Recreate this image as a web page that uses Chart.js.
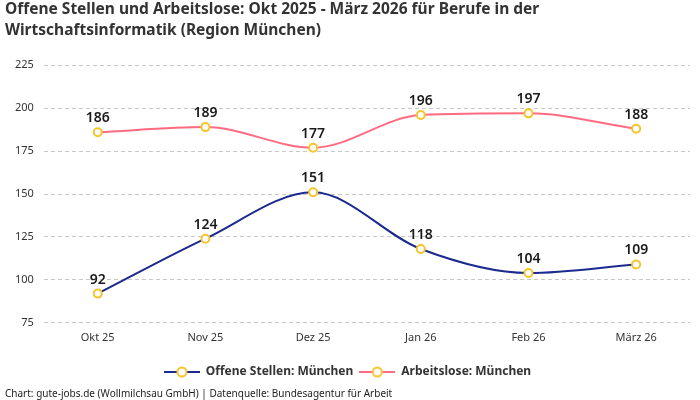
<!DOCTYPE html>
<html>
<head>
<meta charset="utf-8">
<script src="https://cdn.jsdelivr.net/npm/chart.js@4"></script>
<style>
  html, body { margin: 0; padding: 0; background: #fff; }
  #wrap { width: 700px; height: 400px; }
</style>
</head>
<body>
<div id="wrap"><canvas id="myChart"></canvas></div>
<script>
// data
var months = ["Okt 25", "Nov 25", "Dez 25", "Jan 26", "Feb 26", "März 26"];
var offeneStellen = [92, 124, 151, 118, 104, 109];
var arbeitslose = [186, 189, 177, 196, 197, 188];
var yTicks = [75, 100, 125, 150, 175, 200, 225];

var blue = "#1b2a8f";
var pink = "#ff6b81";
var yellow = "#f7c42b";

// legend icon: short line with a hollow circle in the middle
function legendIcon(color) {
  var c = document.createElement('canvas');
  c.width = 36; c.height = 14;
  var ctx = c.getContext('2d');
  ctx.strokeStyle = color;
  ctx.lineWidth = 2;
  ctx.beginPath();
  ctx.moveTo(0, 7); ctx.lineTo(36, 7);
  ctx.stroke();
  ctx.beginPath();
  ctx.arc(18, 7, 4.5, 0, Math.PI * 2);
  ctx.fillStyle = "#fff";
  ctx.fill();
  ctx.strokeStyle = yellow;
  ctx.lineWidth = 2;
  ctx.stroke();
  return c;
}

// numbers above each point
var valueLabels = {
  id: 'valueLabels',
  afterDatasetsDraw: function(chart) {
    var ctx = chart.ctx;
    ctx.save();
    ctx.font = "600 14px 'Noto Sans'";
    ctx.fillStyle = "#1a1a1a";
    ctx.textAlign = "center";
    ctx.textBaseline = "alphabetic";
    chart.data.datasets.forEach(function(ds, i) {
      chart.getDatasetMeta(i).data.forEach(function(pt, j) {
        ctx.fillText(ds.data[j], pt.x, pt.y - 10);
      });
    });
    ctx.restore();
  }
};

var chartCanvas = document.getElementById('myChart');

var data = {
  labels: months,
  datasets: [{
    label: "Offene Stellen: München",
    data: offeneStellen,
    borderColor: blue,
    backgroundColor: blue,
    borderWidth: 2,
    fill: false,
    cubicInterpolationMode: 'monotone',
    pointBackgroundColor: "#fff",
    pointBorderColor: yellow,
    pointBorderWidth: 2,
    pointRadius: 4,
    pointStyle: 'circle'
  },
  {
    label: "Arbeitslose: München",
    data: arbeitslose,
    borderColor: pink,
    backgroundColor: pink,
    borderWidth: 2,
    fill: false,
    cubicInterpolationMode: 'monotone',
    pointBackgroundColor: "#fff",
    pointBorderColor: yellow,
    pointBorderWidth: 2,
    pointRadius: 4,
    pointStyle: 'circle'
  }]
};

var options = {
  responsive: true,
  maintainAspectRatio: false,
  animation: false,
  layout: { padding: { left: 5, right: 10, top: 0, bottom: 0 } },
  plugins: {
    title: {
      display: true,
      align: 'start',
      text: ["Offene Stellen und Arbeitslose: Okt 2025 - März 2026 für Berufe in der", "Wirtschaftsinformatik (Region München)"],
      color: "#333",
      font: { family: "'Noto Sans'", size: 15.5, weight: 'bold', lineHeight: 1.3 },
      padding: { top: 0, bottom: 25 }
    },
    subtitle: {
      display: true,
      position: 'bottom',
      align: 'start',
      text: "Chart: gute-jobs.de (Wollmilchsau GmbH) | Datenquelle: Bundesagentur für Arbeit",
      color: "#222",
      font: { family: "'Noto Sans'", size: 10 },
      padding: { top: 0, bottom: 0 }
    },
    legend: {
      position: 'bottom',
      labels: {
        usePointStyle: true,
        pointStyleWidth: 36,
        boxHeight: 12,
        color: "#333",
        font: { family: "'Noto Sans'", size: 12, weight: 'bold' },
        padding: 6,
        generateLabels: function(chart) {
          return chart.data.datasets.map(function(ds, i) {
            return {
              text: ds.label,
              pointStyle: legendIcon(ds.borderColor),
              fontColor: "#333",
              datasetIndex: i,
              hidden: false,
              lineWidth: 0
            };
          });
        }
      }
    },
    tooltip: { enabled: false }
  },
  scales: {
    y: {
      min: 75,
      max: 225,
      afterBuildTicks: function(axis) {
        axis.ticks = yTicks.map(function(v) { return { value: v }; });
      },
      grid: {
        display: true,
        color: "#c8c8c8",
        drawTicks: false
      },
      border: { display: false, dash: [4, 3] },
      ticks: {
        color: "#333",
        padding: 10,
        font: { family: "'Noto Sans'", size: 11 }
      }
    },
    x: {
      offset: true,
      grid: { display: false },
      border: { display: false },
      // extra room between the month labels and the legend
      afterFit: function(axis) { axis.height += 16; },
      ticks: {
        color: "#333",
        padding: 0,
        font: { family: "'Noto Sans'", size: 11 }
      }
    }
  }
};

var myChart = new Chart(chartCanvas, {
  type: 'line',
  data: data,
  options: options,
  plugins: [valueLabels]
});
</script>
</body>
</html>
